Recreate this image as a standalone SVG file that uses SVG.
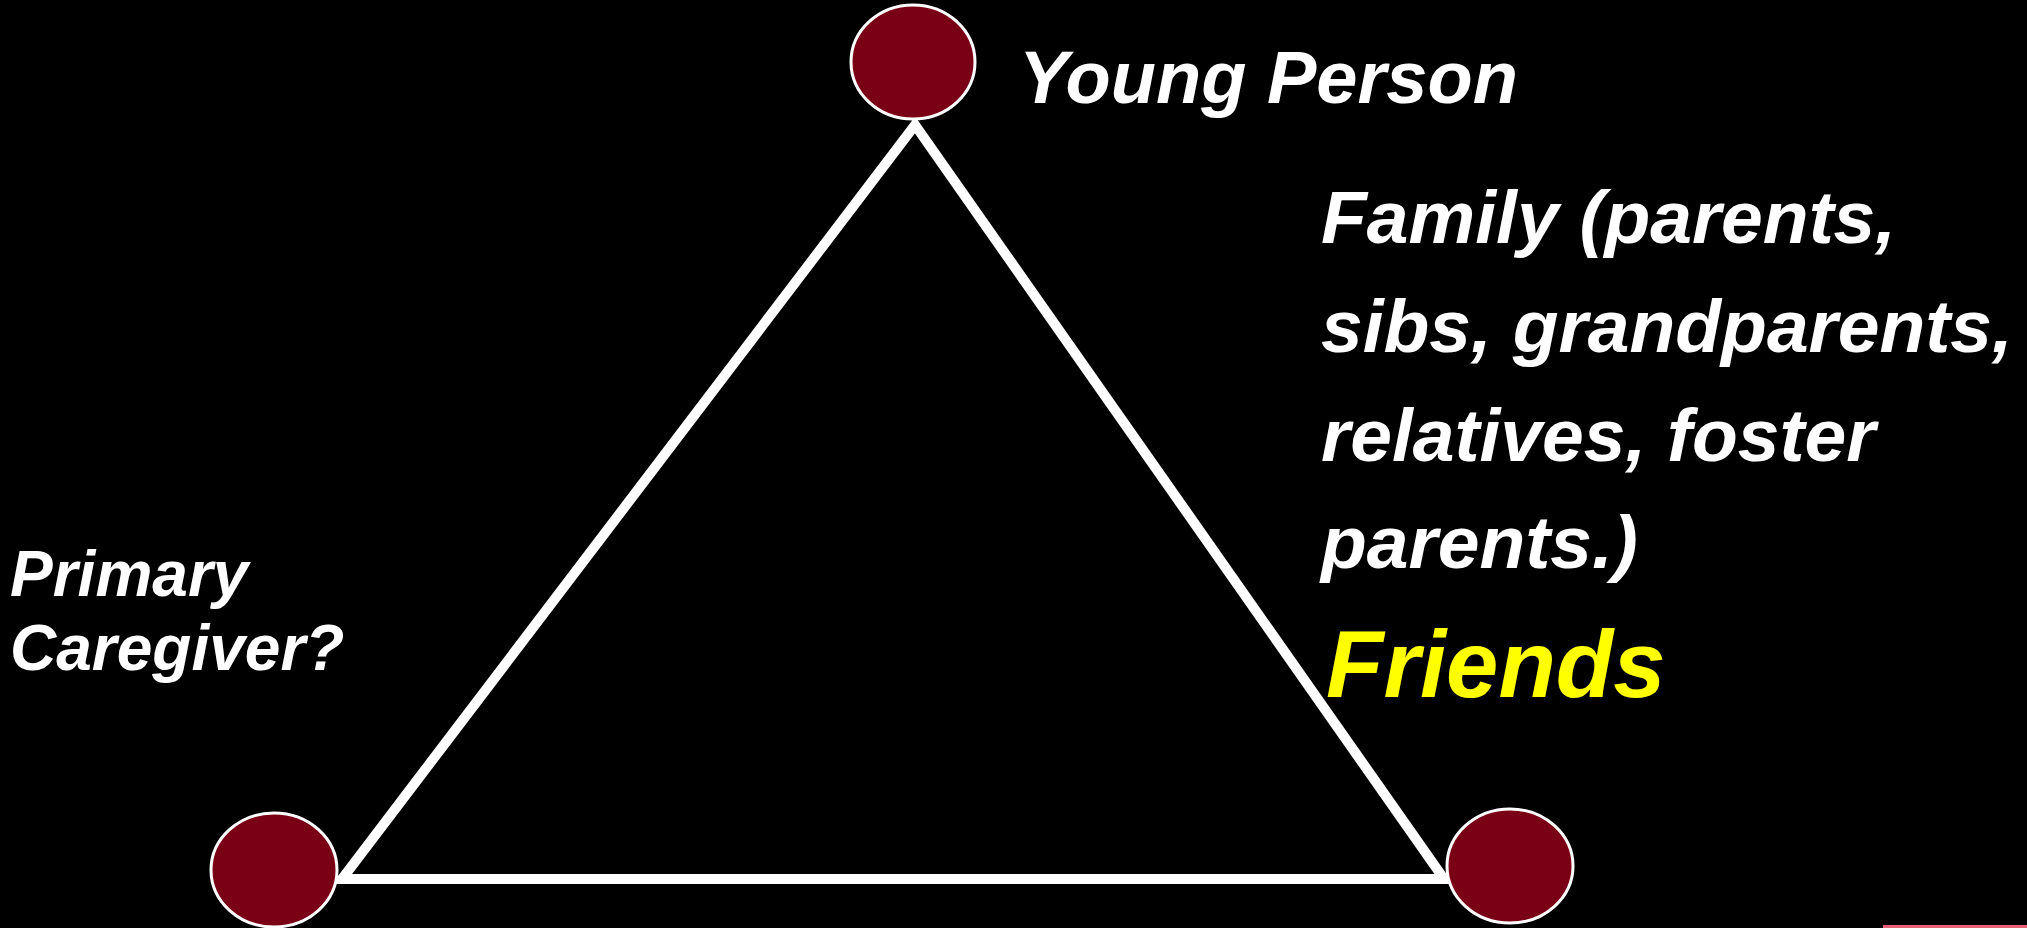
<svg xmlns="http://www.w3.org/2000/svg" width="2027" height="928" viewBox="0 0 2027 928">
<style>
.node{fill:#7a0016;stroke:#ffffff;stroke-width:3}
.lbl{font-family:"Liberation Sans",Arial,sans-serif;font-weight:bold;font-style:italic;fill:#ffffff}
.edge{fill:none;stroke:#ffffff;stroke-width:10;stroke-linejoin:miter;stroke-miterlimit:6}
</style>
<rect x="0" y="0" width="2027" height="928" fill="#000000"/>
<g id="connectors">
<polygon class="edge" points="915,125 342,879 1444,879"/>
</g>
<g id="young-person">
<ellipse class="node" cx="913" cy="62" rx="62" ry="57"/>
<text class="lbl" x="1019" y="103" font-size="74">Young Person</text>
</g>
<g id="primary-caregiver">
<ellipse class="node" cx="274" cy="870" rx="63" ry="57"/>
<text class="lbl" x="10" y="596" font-size="64">Primary</text>
<text class="lbl" x="10" y="670" font-size="64">Caregiver?</text>
</g>
<g id="family-friends">
<ellipse class="node" cx="1510" cy="866" rx="63" ry="57"/>
<text class="lbl" font-size="75">
<tspan x="1321" y="243">Family (parents,</tspan>
<tspan x="1321" y="352">sibs, grandparents,</tspan>
<tspan x="1321" y="461">relatives, foster</tspan>
<tspan x="1321" y="568">parents.)</tspan>
</text>
<text class="lbl" x="1326" y="697" font-size="94" style="fill:#ffff00">Friends</text>
</g>
<rect x="1883" y="925" width="144" height="3" fill="#e8637a"/>
</svg>
